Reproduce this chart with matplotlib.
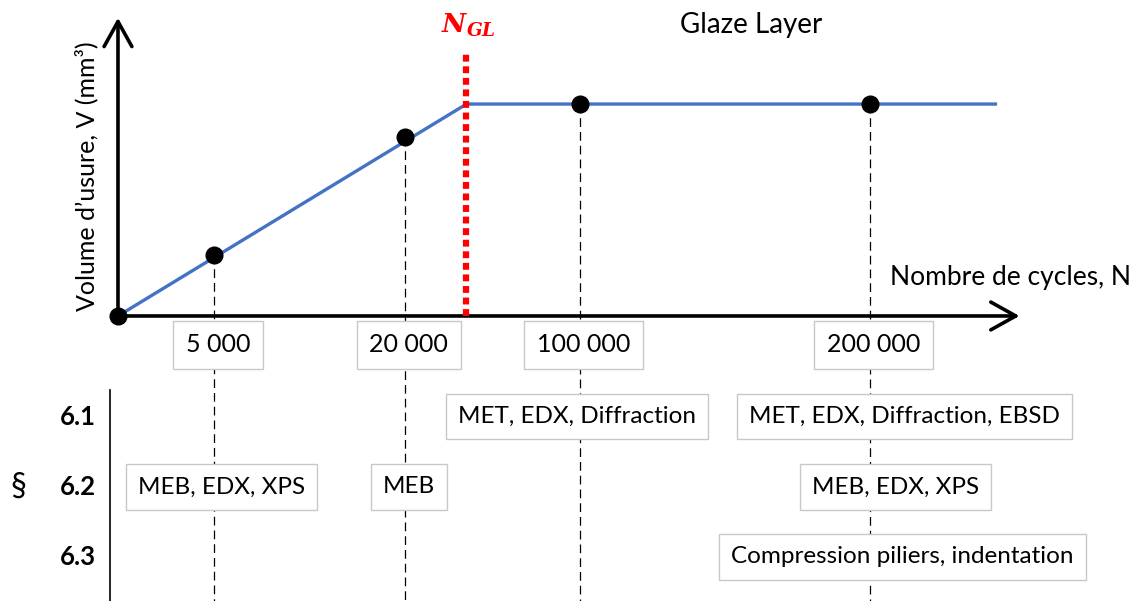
import matplotlib
matplotlib.use('Agg')
import matplotlib.pyplot as plt
from matplotlib.patches import FancyArrowPatch

plt.rcParams['font.family'] = ['Lato', 'DejaVu Sans']
plt.rcParams['mathtext.fontset'] = 'dejavuserif'

# Schematic data (x in schematic units, not to scale)
cycle_labels = ['5 000', '20 000', '100 000', '200 000']
cycle_pos = [1.0, 2.99, 4.81, 7.83]
wear_volume = [0.29, 0.845, 1.0, 1.0]
n_gl = 3.63
curve_x = [0.0, n_gl, 9.14]
curve_v = [0.0, 1.0, 1.0]
x_axis_end = 9.42
v_axis_end = 1.42

# Sections and techniques
sections = ['6.1', '6.2', '6.3']
techniques = [
    # (cycle index, section index, text, x offset)
    (2, 0, 'MET, EDX, Diffraction', -0.03),
    (3, 0, 'MET, EDX, Diffraction, EBSD', 0.36),
    (0, 1, 'MEB, EDX, XPS', 0.08),
    (1, 1, 'MEB', 0.04),
    (3, 1, 'MEB, EDX, XPS', 0.27),
    (3, 2, 'Compression piliers, indentation', 0.34),
]

# layout (schematic units)
row_v = [-0.476, -0.807, -1.137]
tick_v = -0.135

fig = plt.figure(figsize=(11.4, 6.01), dpi=100)
ax = fig.add_axes([0, 0, 1, 1])
ax.set_xlim(-1.229, 10.646)
ax.set_ylim(-1.345, 1.491)
ax.axis('off')

# axes arrows
ax.add_patch(FancyArrowPatch((0, 0), (x_axis_end, 0), arrowstyle='->,head_length=0.9,head_width=0.5',
                             mutation_scale=20, lw=2.6, color='black', zorder=3))
ax.add_patch(FancyArrowPatch((0, 0), (0, v_axis_end), arrowstyle='->,head_length=0.9,head_width=0.5',
                             mutation_scale=20, lw=2.6, color='black', zorder=3))

# wear curve
ax.plot(curve_x, curve_v, color='#4472C4', lw=2.4, zorder=4)
ax.plot([0] + cycle_pos, [0] + wear_volume, 'o', color='black', ms=12, zorder=5)

# dashed guides from points down
for x, v in zip(cycle_pos, wear_volume):
    ax.plot([x, x], [v, -1.345], color='black', lw=0.9, ls=(0, (7, 4)), zorder=1)

# N_GL threshold
ax.plot([n_gl, n_gl], [0, 1.24], color='red', lw=4.5, ls=(0, (1.1, 0.75)),
        solid_capstyle='butt', dash_capstyle='butt', zorder=4)
ax.text(n_gl + 0.02, 1.37, r'$\mathbfit{N}_{\mathbfit{GL}}$', color='red', fontsize=19,
        ha='center', va='center')

ax.text(6.6, 1.375, 'Glaze Layer', fontsize=20, ha='center', va='center')
ax.text(9.3, 0.18, 'Nombre de cycles, N', fontsize=19, ha='center', va='center')
ax.text(-0.33, 0.66, 'Volume d\u2019usure, V (mm\u00b3)', fontsize=18, rotation=90,
        ha='center', va='center')

box = dict(boxstyle='square,pad=0.5', fc='white', ec='#C8C8C8', lw=1)

for x, lab in zip(cycle_pos, cycle_labels):
    ax.text(x + 0.04, tick_v, lab, fontsize=18, ha='center', va='center', bbox=box, zorder=6)

for ci, si, txt, dx in techniques:
    ax.text(cycle_pos[ci] + dx, row_v[si], txt, fontsize=17.5, ha='center', va='center',
            bbox=box, zorder=6)

# section labels
for v, s in zip(row_v, sections):
    ax.text(-0.42, v, s, fontsize=18.5, fontweight='bold', ha='center', va='center')
ax.text(-1.04, row_v[1], '\u00a7', fontsize=23, ha='center', va='center')
ax.plot([-0.08, -0.08], [-0.35, -1.345], color='black', lw=1.2)

fig.savefig('out.png', dpi=100, facecolor='white')
